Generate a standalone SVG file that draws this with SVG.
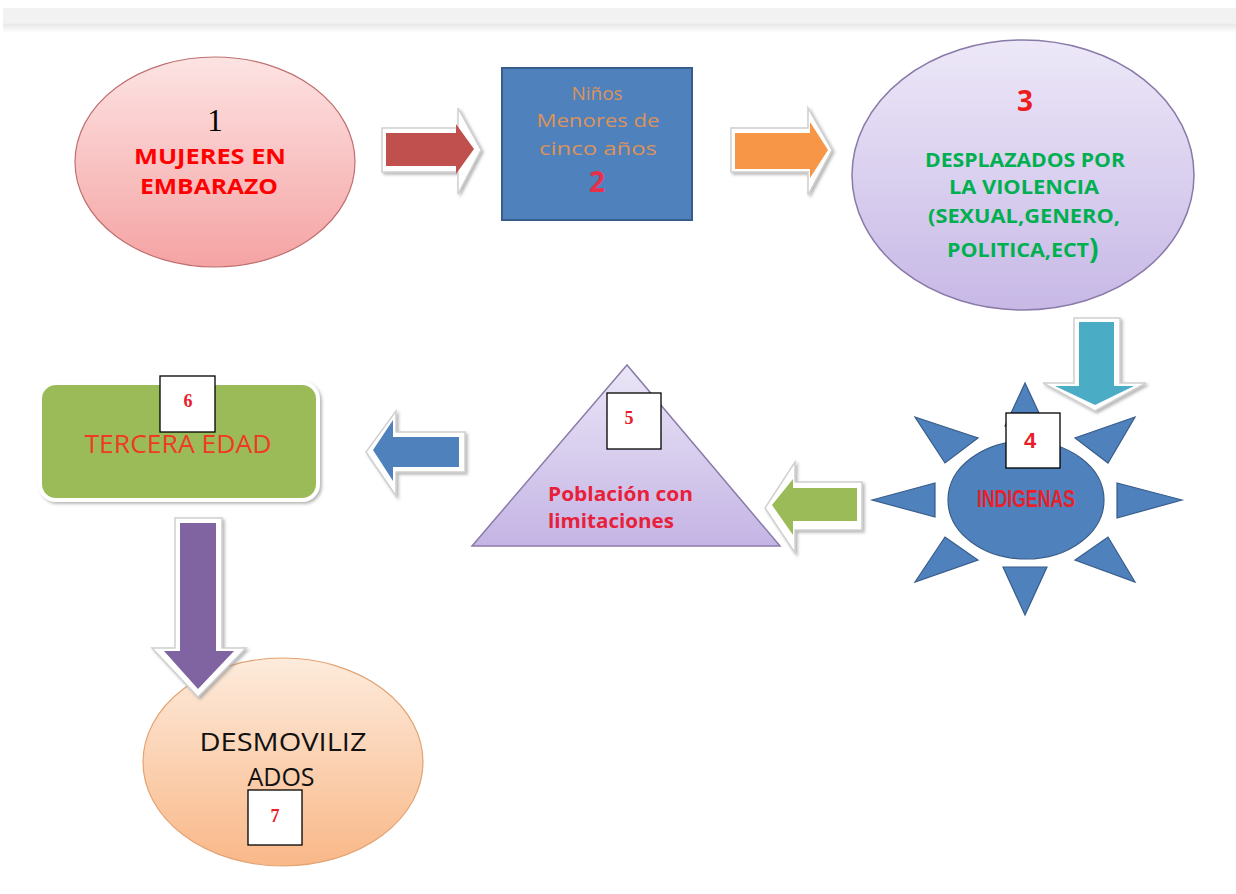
<svg xmlns="http://www.w3.org/2000/svg" width="1236" height="894" viewBox="0 0 1236 894">
<defs>
<linearGradient id="gPink" x1="0" y1="0" x2="0" y2="1"><stop offset="0" stop-color="#fde3e3"/><stop offset="1" stop-color="#f5a3a3"/></linearGradient>
<linearGradient id="gLav" x1="0" y1="0" x2="0" y2="1"><stop offset="0" stop-color="#ede8f8"/><stop offset="1" stop-color="#c7b8e6"/></linearGradient>
<linearGradient id="gTri" x1="0" y1="0" x2="0" y2="1"><stop offset="0" stop-color="#ebe6f7"/><stop offset="1" stop-color="#c4b4e4"/></linearGradient>
<linearGradient id="gPeach" x1="0" y1="0" x2="0" y2="1"><stop offset="0" stop-color="#fdebdc"/><stop offset="1" stop-color="#f9b888"/></linearGradient>
<linearGradient id="gBar" x1="0" y1="0" x2="0" y2="1"><stop offset="0" stop-color="#f2f2f2"/><stop offset="0.6" stop-color="#f2f2f2"/><stop offset="0.65" stop-color="#e9e9e9"/><stop offset="1" stop-color="#ffffff"/></linearGradient>
<filter id="sh" x="-20%" y="-20%" width="140%" height="140%"><feDropShadow dx="2" dy="2" stdDeviation="1.5" flood-color="#888" flood-opacity="0.6"/></filter>
</defs>
<style>
.arrOut{fill:#ffffff;stroke:#d0d0d0;stroke-width:1.5;filter:url(#sh)}
.box{fill:#ffffff;stroke:#000000;stroke-width:1.3}
.num{font-family:"Liberation Serif",serif;font-weight:bold;font-size:18px;fill:#e8202a;text-anchor:middle}
.t{font-family:"Open Sans","Liberation Sans",sans-serif;text-anchor:middle}
</style>
<rect x="3" y="8" width="1233" height="25" fill="url(#gBar)"/>

<g id="node1">
<ellipse cx="215" cy="162" rx="140" ry="105" fill="url(#gPink)" stroke="#c07070" stroke-width="1.2"/>
<text x="215" y="131" font-family="Liberation Serif,serif" font-size="31" fill="#000" text-anchor="middle">1</text>
<text class="t" x="210" y="164" font-size="22" font-weight="bold" fill="#ff0000" textLength="152" lengthAdjust="spacingAndGlyphs">MUJERES EN</text>
<text class="t" x="209" y="194" font-size="22" font-weight="bold" fill="#ff0000" textLength="138" lengthAdjust="spacingAndGlyphs">EMBARAZO</text>
</g>

<g id="node2">
<rect x="502" y="68" width="190" height="152" fill="#4f81bd" stroke="#385d8a" stroke-width="2"/>
<text class="t" x="597" y="100" font-size="19" fill="#dc935a">Niños</text>
<text class="t" x="598" y="127" font-size="19" fill="#dc935a" textLength="123" lengthAdjust="spacingAndGlyphs">Menores de</text>
<text class="t" x="598" y="155" font-size="19" fill="#dc935a" textLength="118" lengthAdjust="spacingAndGlyphs">cinco años</text>
<text class="t" x="597" y="192" font-size="28" font-weight="bold" fill="#e8304a">2</text>
</g>

<g id="node3">
<ellipse cx="1023" cy="175" rx="171" ry="135" fill="url(#gLav)" stroke="#8a7aa8" stroke-width="1.5"/>
<text class="t" x="1025" y="111" font-size="28" font-weight="bold" fill="#ee1c1c">3</text>
<text class="t" x="1025" y="167" font-size="19" font-weight="bold" fill="#00b050" textLength="200" lengthAdjust="spacingAndGlyphs">DESPLAZADOS POR</text>
<text class="t" x="1024" y="194" font-size="19" font-weight="bold" fill="#00b050" textLength="150" lengthAdjust="spacingAndGlyphs">LA VIOLENCIA</text>
<text class="t" x="1024" y="223" font-size="19" font-weight="bold" fill="#00b050" textLength="192" lengthAdjust="spacingAndGlyphs">(SEXUAL,GENERO,</text>
<text x="947" y="257" font-family="Open Sans,Liberation Sans,sans-serif" font-size="19" font-weight="bold" fill="#00b050"><tspan textLength="142" lengthAdjust="spacingAndGlyphs">POLITICA,ECT</tspan><tspan font-size="28" dy="2">)</tspan></text>
</g>

<g id="node4">
<g fill="#4f81bd" stroke="#385d8a" stroke-width="1.2">
<polygon points="1025,383 1005,426 1045,426"/>
<polygon points="1025,615 1003,567 1047,567"/>
<polygon points="872,500 935,483 935,517"/>
<polygon points="1182,500 1117,483 1117,518"/>
<polygon points="915,417 978,438 945,463"/>
<polygon points="1135,417 1075,438 1108,463"/>
<polygon points="915,582 945,537 978,560"/>
<polygon points="1135,582 1108,537 1075,560"/>
<ellipse cx="1026" cy="500" rx="78" ry="59"/>
</g>
<rect class="box" x="1006" y="413" width="54" height="55"/>
<text x="1030" y="448" font-family="Liberation Sans,sans-serif" font-weight="bold" font-size="22" fill="#e8202a" text-anchor="middle">4</text>
<text x="1026" y="507" font-family="Liberation Sans,sans-serif" font-weight="bold" font-size="23" fill="#e8202a" text-anchor="middle" textLength="98" lengthAdjust="spacingAndGlyphs">INDIGENAS</text>
</g>

<g id="node5">
<polygon points="627,365 472,546 780,546" fill="url(#gTri)" stroke="#8a7aa8" stroke-width="1.5"/>
<rect class="box" x="607" y="393" width="54" height="56"/>
<text class="num" x="629" y="424">5</text>
<text x="548" y="501" font-family="Open Sans,Liberation Sans,sans-serif" font-weight="bold" font-size="19" fill="#e8203a" textLength="145" lengthAdjust="spacingAndGlyphs">Población con</text>
<text x="548" y="528" font-family="Open Sans,Liberation Sans,sans-serif" font-weight="bold" font-size="19" fill="#e8203a" textLength="126" lengthAdjust="spacingAndGlyphs">limitaciones</text>
</g>

<g id="node6">
<rect x="40" y="383" width="278" height="117" rx="16" fill="#9bbb59" stroke="#ffffff" stroke-width="4" filter="url(#sh)"/>
<rect class="box" x="160" y="376" width="55" height="56"/>
<text class="num" x="188" y="407">6</text>
<text class="t" x="178" y="453" font-size="25" fill="#ee3a24" textLength="187" lengthAdjust="spacingAndGlyphs">TERCERA EDAD</text>
</g>

<g id="node7">
<ellipse cx="283" cy="762" rx="140" ry="104" fill="url(#gPeach)" stroke="#e3a372" stroke-width="1.2"/>
<text class="t" x="283" y="751" font-size="25" fill="#111" textLength="167" lengthAdjust="spacingAndGlyphs">DESMOVILIZ</text>
<text class="t" x="281" y="786" font-size="25" fill="#111">ADOS</text>
<rect class="box" x="248" y="790" width="54" height="55"/>
<text class="num" x="275" y="822">7</text>
</g>

<g id="connectors">
<path class="arrOut" d="M382,128 H458 V108 L481,150 L458,194 V172 H382 Z"/>
<path fill="#c0504d" d="M386,133 H456 V124 L474,149 L456,174 V166 H386 Z"/>
<path class="arrOut" d="M731,128 H808 V108 L832,150 L808,195 V172 H731 Z"/>
<path fill="#f79646" d="M735,133 H810 V122 L828,150 L810,178 V169 H735 Z"/>
<path class="arrOut" d="M1074,318 H1120 V383 H1146 L1095,411 L1043,383 H1074 Z"/>
<path fill="#4bacc6" d="M1079,322 H1114 V386 H1134 L1095,405 L1055,386 H1079 Z"/>
<path class="arrOut" d="M862,482 H795 V462 L765,508 L795,553 V530 H862 Z"/>
<path fill="#9bbb59" d="M857,488 H793 V479 L772,505 L793,535 V521 H857 Z"/>
<path class="arrOut" d="M465,432 H396 V411 L366,452 L396,496 V472 H465 Z"/>
<path fill="#4f81bd" d="M459,437 H393 V420 L373,450 L393,481 V467 H459 Z"/>
<path class="arrOut" d="M175,518 H222 V648 H246 L198,697 L152,648 H175 Z"/>
<path fill="#8064a2" d="M180,523 H216 V651 H234 L198,689 L164,651 H180 Z"/>
</g>
</svg>
